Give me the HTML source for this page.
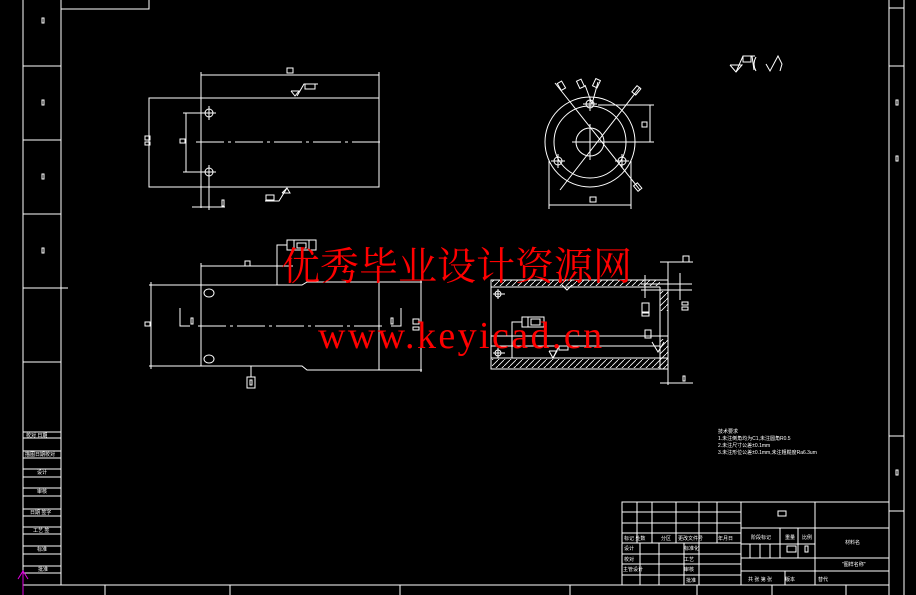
<!DOCTYPE html>
<html><head><meta charset="utf-8">
<style>
html,body{margin:0;padding:0;background:#000;}
svg{display:block;}
.s{font-family:"Liberation Sans","Noto Sans CJK SC",sans-serif;}
</style></head>
<body>
<svg width="916" height="595" viewBox="0 0 916 595" xmlns="http://www.w3.org/2000/svg">
<defs>
<pattern id="hat" width="6" height="6" patternUnits="userSpaceOnUse">
<path d="M0 6 L6 0" stroke="#fff" stroke-width="0.8"/>
</pattern>
</defs>
<rect width="916" height="595" fill="#000"/>
<g stroke="#fff" stroke-width="1.2" fill="none" shape-rendering="crispEdges">
<line x1="23" y1="0" x2="23" y2="595"/>
<line x1="61" y1="0" x2="61" y2="585"/>
<polyline points="61,9 149,9 149,0"/>
<line x1="23" y1="585" x2="889" y2="585"/>
<line x1="889" y1="0" x2="889" y2="595"/>
<line x1="904" y1="0" x2="904" y2="595"/>
<line x1="889" y1="8" x2="904" y2="8"/>
<line x1="889" y1="66" x2="904" y2="66"/>
<line x1="889" y1="436" x2="904" y2="436"/>
<line x1="889" y1="511" x2="904" y2="511"/>
<line x1="23" y1="66" x2="61" y2="66"/>
<line x1="23" y1="140" x2="61" y2="140"/>
<line x1="23" y1="214" x2="61" y2="214"/>
<line x1="23" y1="288" x2="68" y2="288"/>
<line x1="23" y1="362" x2="61" y2="362"/>
<line x1="23" y1="432" x2="61" y2="432"/><line x1="23" y1="438" x2="61" y2="438"/>
<line x1="23" y1="451" x2="61" y2="451"/><line x1="23" y1="458" x2="61" y2="458"/>
<line x1="23" y1="469" x2="61" y2="469"/><line x1="23" y1="477" x2="61" y2="477"/>
<line x1="23" y1="488" x2="61" y2="488"/><line x1="23" y1="496" x2="61" y2="496"/>
<line x1="23" y1="509" x2="61" y2="509"/><line x1="23" y1="516" x2="61" y2="516"/>
<line x1="23" y1="527" x2="61" y2="527"/><line x1="23" y1="534" x2="61" y2="534"/>
<line x1="23" y1="546" x2="61" y2="546"/><line x1="23" y1="554" x2="61" y2="554"/>
<line x1="23" y1="566" x2="61" y2="566"/><line x1="23" y1="573" x2="61" y2="573"/>
<line x1="105" y1="585" x2="105" y2="595"/>
<line x1="230" y1="585" x2="230" y2="595"/>
<line x1="400" y1="585" x2="400" y2="595"/>
<line x1="570" y1="585" x2="570" y2="595"/>
<line x1="697" y1="585" x2="697" y2="595"/>
<line x1="772" y1="585" x2="772" y2="595"/>
<line x1="846" y1="585" x2="846" y2="595"/>
<rect x="42" y="18" width="2" height="5"/><rect x="42" y="100" width="2" height="5"/>
<rect x="42" y="174" width="2" height="5"/><rect x="42" y="248" width="2" height="5"/>
<rect x="896" y="156" width="2" height="5"/><rect x="896" y="470" width="2" height="5"/>
<rect x="896" y="100" width="2" height="5"/>
<rect x="622" y="502" width="267" height="83"/>
<line x1="741" y1="502" x2="741" y2="585"/>
<line x1="815" y1="502" x2="815" y2="585"/>
<line x1="622" y1="512" x2="741" y2="512"/>
<line x1="622" y1="523" x2="741" y2="523"/>
<line x1="622" y1="533" x2="741" y2="533"/>
<line x1="622" y1="543" x2="741" y2="543"/>
<line x1="622" y1="554" x2="741" y2="554"/>
<line x1="622" y1="564" x2="741" y2="564"/>
<line x1="622" y1="575" x2="741" y2="575"/>
<line x1="637" y1="502" x2="637" y2="543"/>
<line x1="652" y1="502" x2="652" y2="543"/>
<line x1="676" y1="502" x2="676" y2="543"/>
<line x1="699" y1="502" x2="699" y2="543"/>
<line x1="717" y1="502" x2="717" y2="543"/>
<line x1="640" y1="543" x2="640" y2="585"/>
<line x1="659" y1="543" x2="659" y2="585"/>
<line x1="684" y1="543" x2="684" y2="585"/>
<line x1="699" y1="543" x2="699" y2="585"/>
<line x1="741" y1="528" x2="889" y2="528"/>
<line x1="741" y1="558" x2="889" y2="558"/>
<line x1="741" y1="571" x2="889" y2="571"/>
<line x1="741" y1="544" x2="815" y2="544"/>
<line x1="780" y1="528" x2="780" y2="558"/>
<line x1="798" y1="528" x2="798" y2="558"/>
<line x1="750" y1="544" x2="750" y2="558"/>
<line x1="760" y1="544" x2="760" y2="558"/>
<line x1="770" y1="544" x2="770" y2="558"/>
<line x1="785" y1="571" x2="785" y2="585"/>
<rect x="778" y="511" width="8" height="5"/>
<rect x="787" y="546" width="9" height="6"/>
<rect x="805" y="546" width="3" height="6"/>
</g>
<g fill="#fff" font-size="5" class="s">
<text x="26" y="437">校对 日期</text>
<text x="25" y="456">描图日期校对</text>
<text x="37" y="474">设计</text>
<text x="37" y="493">审核</text>
<text x="30" y="514">日期 签字</text>
<text x="33" y="532">工艺 签</text>
<text x="37" y="551">标准</text>
<text x="38" y="571">批准</text>
<text x="624" y="540">标记 处数</text><text x="661" y="540">分区</text><text x="678" y="540">更改文件号</text><text x="718" y="540">年月日</text>
<text x="624" y="550">设计</text><text x="684" y="550">标准化</text>
<text x="624" y="561">校对</text><text x="684" y="561">工艺</text>
<text x="623" y="571">主管设计</text><text x="684" y="571">审核</text>
<text x="686" y="582">批准</text>
<text x="751" y="539">阶段标记</text><text x="785" y="539">重量</text><text x="802" y="539">比例</text>
<text x="845" y="544">材料名</text>
<text x="842" y="566">"图样名称"</text>
<text x="748" y="581">共 张  第 张</text><text x="785" y="581">版本</text><text x="818" y="581">替代</text>
<text x="718" y="433">技术要求</text>
<text x="718" y="440">1.未注倒角均为C1,未注圆角R0.5</text>
<text x="718" y="447">2.未注尺寸公差±0.1mm</text>
<text x="718" y="454">3.未注形位公差±0.1mm,未注粗糙度Ra6.3um</text>
</g>

<g stroke="#fff" stroke-width="1" fill="none">
<rect x="149" y="98" width="230" height="89"/>
<line x1="201" y1="72" x2="201" y2="208"/>
<line x1="379" y1="72" x2="379" y2="98"/>
<line x1="201" y1="75" x2="379" y2="75"/>
<line x1="196" y1="142" x2="382" y2="142" stroke-dasharray="28 4 3 4"/>
<line x1="186" y1="113" x2="186" y2="172"/>
<line x1="183" y1="113" x2="209" y2="113"/><line x1="183" y1="172" x2="209" y2="172"/>
<circle cx="209" cy="113" r="4"/><circle cx="209" cy="172" r="4"/>
<line x1="202" y1="113" x2="216" y2="113"/><line x1="209" y1="106" x2="209" y2="120"/>
<line x1="202" y1="172" x2="216" y2="172"/><line x1="209" y1="165" x2="209" y2="179"/>
<line x1="192" y1="207" x2="225" y2="207"/><line x1="209" y1="172" x2="209" y2="210"/>
<rect x="222" y="200" width="2" height="6"/>
<rect x="287" y="68" width="6" height="5"/>
<polyline points="291,91 295,96 299,91 291,91"/><polyline points="297,96 304,84 318,84"/>
<rect x="305" y="84" width="10" height="5"/>
<rect x="145" y="136" width="5" height="4"/><rect x="145" y="142" width="5" height="3"/>
<rect x="180" y="139" width="5" height="4"/>
<rect x="266" y="195" width="8" height="5"/>
<polyline points="265,201 279,201 287,188"/><polyline points="282,193 290,193 287,188 282,193"/>

<circle cx="590" cy="142" r="45"/>
<circle cx="590" cy="142" r="36"/>
<circle cx="590" cy="142" r="14"/>
<line x1="572" y1="142" x2="608" y2="142"/><line x1="590" y1="124" x2="590" y2="160"/>
<line x1="555" y1="83" x2="640" y2="190"/><line x1="560" y1="190" x2="640" y2="87"/>
<line x1="585" y1="85" x2="592" y2="104"/><line x1="598" y1="82" x2="592" y2="104"/>
<circle cx="558" cy="161" r="4"/><circle cx="622" cy="161" r="4"/><circle cx="590" cy="104" r="4"/>
<line x1="551" y1="161" x2="565" y2="161"/><line x1="558" y1="154" x2="558" y2="168"/>
<line x1="615" y1="161" x2="629" y2="161"/><line x1="622" y1="154" x2="622" y2="168"/>
<line x1="583" y1="104" x2="597" y2="104"/><line x1="590" y1="97" x2="590" y2="111"/>
<line x1="549" y1="161" x2="549" y2="209"/><line x1="631" y1="161" x2="631" y2="209"/>
<line x1="549" y1="205" x2="631" y2="205"/>
<rect x="590" y="197" width="6" height="5"/>
<line x1="598" y1="105" x2="654" y2="105"/><line x1="600" y1="142" x2="654" y2="142"/>
<line x1="650" y1="105" x2="650" y2="142"/>
<rect x="642" y="122" width="5" height="5"/>
<rect x="559" y="82" width="5" height="8" transform="rotate(-30 561 86)"/>
<rect x="578" y="80" width="5" height="8" transform="rotate(-25 580 84)"/>
<rect x="594" y="79" width="5" height="8" transform="rotate(25 596 83)"/>
<rect x="634" y="86" width="5" height="8" transform="rotate(40 636 90)"/>
<rect x="635" y="184" width="5" height="7" transform="rotate(-40 637 187)"/>
<polyline points="730,65 742,65 736,72 730,65"/><polyline points="736,72 743,56 755,56"/>
<rect x="743" y="56" width="8" height="6"/><path d="M752 56 L754 70"/>
<path d="M756 57 Q752 64 756 71"/>
<polyline points="766,64 770,71 778,56 782,64 780,71"/>

<polyline points="149,285 302,285 307,282 422,282"/>
<polyline points="149,366 302,366 307,370 422,370"/>
<line x1="151" y1="282" x2="151" y2="369"/>
<line x1="421" y1="280" x2="421" y2="372"/>
<line x1="201" y1="263" x2="201" y2="366"/>
<line x1="379" y1="282" x2="379" y2="370"/>
<line x1="201" y1="266" x2="293" y2="266"/>
<line x1="198" y1="326" x2="384" y2="326" stroke-dasharray="28 4 3 4"/>
<ellipse cx="209" cy="293" rx="5" ry="4"/><ellipse cx="209" cy="359" rx="5" ry="4"/>
<polyline points="180,308 180,326 190,326"/><polyline points="401,308 401,326 391,326"/>
<rect x="191" y="318" width="2" height="6"/><rect x="391" y="318" width="2" height="6"/>
<rect x="413" y="319" width="6" height="5"/><rect x="413" y="327" width="6" height="3"/>
<rect x="145" y="322" width="5" height="4"/>
<rect x="245" y="261" width="5" height="5"/>
<polyline points="277,285 277,245 287,245"/>
<rect x="287" y="240" width="29" height="10"/><line x1="294" y1="240" x2="294" y2="250"/><line x1="309" y1="240" x2="309" y2="250"/>
<rect x="297" y="243" width="9" height="5"/>
<line x1="251" y1="366" x2="251" y2="377"/><rect x="247" y="377" width="8" height="11"/><rect x="250" y="380" width="2" height="5"/>

<rect x="491" y="280" width="177" height="89"/>
<rect x="492" y="280" width="168" height="6" fill="url(#hat)" stroke="none"/>
<rect x="492" y="359" width="168" height="9" fill="url(#hat)" stroke="none"/>
<rect x="660" y="291" width="8" height="20" fill="url(#hat)" stroke="none"/>
<rect x="660" y="339" width="8" height="30" fill="url(#hat)" stroke="none"/>
<line x1="491" y1="287" x2="660" y2="287"/>
<line x1="491" y1="358" x2="668" y2="358"/>
<line x1="491" y1="336" x2="668" y2="336"/>
<line x1="491" y1="346" x2="660" y2="346"/>
<line x1="660" y1="287" x2="660" y2="369"/>
<line x1="668" y1="262" x2="668" y2="385"/>
<line x1="660" y1="262" x2="693" y2="262"/><line x1="660" y1="383" x2="693" y2="383"/>
<line x1="641" y1="284" x2="692" y2="284"/><line x1="641" y1="290" x2="692" y2="290"/>
<line x1="645" y1="298" x2="645" y2="275"/>
<line x1="680" y1="273" x2="680" y2="300"/>
<circle cx="498" cy="294" r="3"/><line x1="493" y1="294" x2="505" y2="294"/><line x1="498" y1="289" x2="498" y2="299"/>
<circle cx="498" cy="353" r="3"/><line x1="493" y1="353" x2="505" y2="353"/><line x1="498" y1="348" x2="498" y2="358"/>
<polyline points="512,358 512,322 522,322"/>
<rect x="522" y="317" width="22" height="10"/><line x1="528" y1="317" x2="528" y2="327"/>
<rect x="531" y="319" width="9" height="6"/>
<polyline points="562,285 567,290 572,285"/>
<polyline points="549,351 553,358 557,351 549,351"/><polyline points="553,358 559,346 568,346"/>
<rect x="559" y="346" width="9" height="4"/>
<rect x="642" y="303" width="7" height="9"/><rect x="642" y="313" width="7" height="3"/>
<rect x="645" y="330" width="6" height="8"/>
<polyline points="652,342 658,352 664,342"/>
<rect x="683" y="256" width="6" height="6"/>
<rect x="682" y="302" width="6" height="3"/><rect x="682" y="307" width="6" height="3"/>
<rect x="683" y="376" width="2" height="5"/>
</g>
<g stroke="#e000e0" stroke-width="1" fill="none">
<line x1="23" y1="572" x2="23" y2="595"/>
<polyline points="18,579 23,571 28,579"/>
</g>
<text x="281" y="280" fill="#ff0000" style="font-family:'Noto Serif CJK SC','WenQuanYi Zen Hei',serif;font-size:39px;">优秀毕业设计资源网</text>
<text x="318" y="348" fill="#ff0000" style="font-family:'Liberation Serif',serif;font-size:38px;letter-spacing:2.4px;">www.keyicad.cn</text>
</svg>
</body></html>
